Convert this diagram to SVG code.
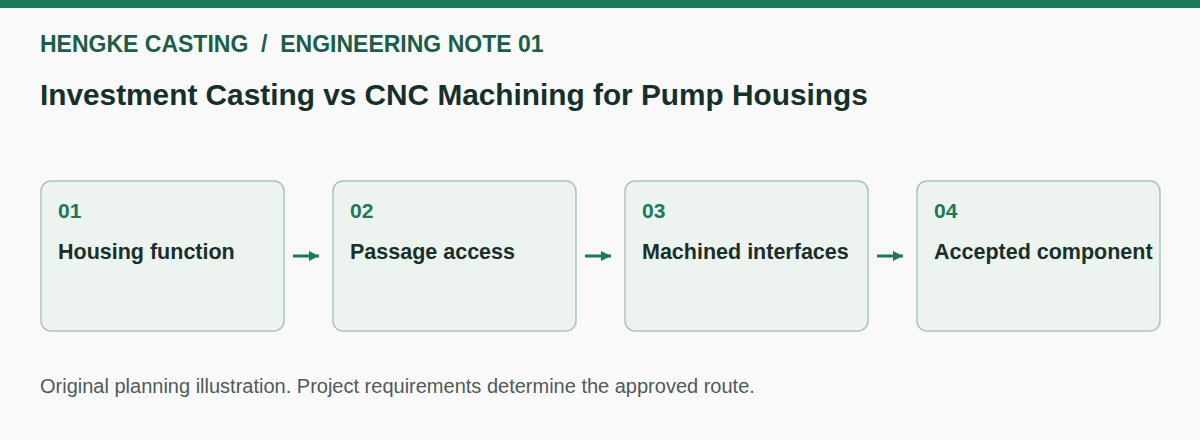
<svg xmlns="http://www.w3.org/2000/svg" width="1200" height="440" viewBox="0 0 1200 440">
<defs>
<style>
.kick{font-family:"Liberation Sans",Arial,sans-serif;font-weight:bold;font-size:23px;fill:#1b5e48;white-space:pre}
.title{font-family:"Liberation Sans",Arial,sans-serif;font-weight:bold;font-size:29.8px;fill:#15302a}
.box{fill:#edf3ef;stroke:#a6c7b7;stroke-width:1.5}
.num{font-family:"Liberation Sans",Arial,sans-serif;font-weight:bold;font-size:21px;fill:#1a7a5a}
.lbl{font-family:"Liberation Sans",Arial,sans-serif;font-weight:bold;font-size:21.5px;fill:#17302a}
.foot{font-family:"Liberation Sans",Arial,sans-serif;font-size:20px;fill:#4d5c57}
.conn{stroke:#1a7a5a;stroke-width:3;fill:none}
</style>
<marker id="ah" viewBox="0 0 10 10" refX="10" refY="5" markerWidth="10" markerHeight="10" markerUnits="userSpaceOnUse" orient="auto">
<path d="M0,0 L10,5 L0,10 Z" fill="#1a7a5a"/>
</marker>
</defs>
<rect x="0" y="0" width="1200" height="440" fill="#f9f9f9"/>
<rect x="0" y="0" width="1200" height="8" fill="#1a7a5a"/>
<text class="kick" x="40" y="52" xml:space="preserve">HENGKE CASTING  /  ENGINEERING NOTE 01</text>
<text class="title" x="40" y="105">Investment Casting vs CNC Machining for Pump Housings</text>
<g id="node1"><rect class="box" x="41" y="181" width="243" height="150" rx="10"/><text class="num" x="58" y="218">01</text><text class="lbl" x="58" y="259">Housing function</text></g>
<g id="node2"><rect class="box" x="333" y="181" width="243" height="150" rx="10"/><text class="num" x="350" y="218">02</text><text class="lbl" x="350" y="259">Passage access</text></g>
<g id="node3"><rect class="box" x="625" y="181" width="243" height="150" rx="10"/><text class="num" x="642" y="218">03</text><text class="lbl" x="642" y="259">Machined interfaces</text></g>
<g id="node4"><rect class="box" x="917" y="181" width="243" height="150" rx="10"/><text class="num" x="934" y="218">04</text><text class="lbl" x="934" y="259">Accepted component</text></g>
<g id="connectors">
<line class="conn" x1="293" y1="256" x2="319" y2="256" marker-end="url(#ah)"/>
<line class="conn" x1="585" y1="256" x2="611" y2="256" marker-end="url(#ah)"/>
<line class="conn" x1="877" y1="256" x2="903" y2="256" marker-end="url(#ah)"/>
</g>
<text class="foot" x="40" y="393">Original planning illustration. Project requirements determine the approved route.</text>
</svg>
